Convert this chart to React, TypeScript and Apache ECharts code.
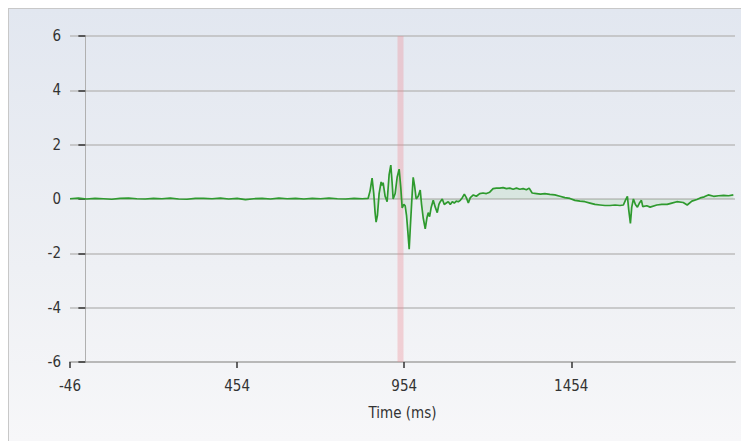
import React, { useEffect, useRef } from "react";
import * as echarts from "echarts";

const xTickValues = [-46, 454, 954, 1454];
const yTickValues = [-6, -4, -2, 0, 2, 4, 6];
const markerRange = [934, 952];

const timeMs = [
  -46, -21, 4, 29, 54, 79, 104, 129, 154, 179, 204, 229, 254, 279, 304, 329, 354, 379,
  404, 429, 454, 479, 504, 529, 554, 579, 604, 629, 654, 679, 704, 729, 754, 779, 804, 829,
  846, 852, 858, 863, 867, 870, 874, 879, 885, 888, 891, 897, 903, 909, 914, 918, 921, 927,
  933, 939, 944, 948, 953, 957, 961, 965, 969, 973, 978, 981, 985, 990, 996, 1002, 1006,
  1011, 1017, 1022, 1026, 1030, 1035, 1041, 1047, 1053, 1058, 1062, 1068, 1074, 1080, 1086,
  1092, 1098, 1104, 1110, 1116, 1122, 1128, 1134, 1140, 1146, 1152, 1161, 1170, 1180, 1190,
  1200, 1210, 1220, 1230, 1240, 1250, 1260, 1270, 1280, 1290, 1300, 1310, 1320, 1328, 1337,
  1350, 1362, 1375, 1390, 1405, 1420, 1435, 1450, 1465, 1480, 1495, 1510, 1525, 1540, 1555,
  1570, 1585, 1600, 1610, 1616, 1622, 1626, 1631, 1635, 1640, 1646, 1652, 1658, 1664, 1668,
  1680, 1690, 1710, 1725, 1741, 1755, 1770, 1789, 1801, 1815, 1830, 1840, 1852, 1864, 1880,
  1895, 1910, 1925, 1939,
];

const signal = [
  0.01, 0.03, 0.0, 0.02, 0.01, -0.01, 0.02, 0.03, 0.01, 0.0, 0.02, 0.01, 0.03, 0.0, -0.01, 0.02, 0.02, 0.01,
  0.03, 0.0, 0.02, -0.02, 0.01, 0.02, 0.0, 0.03, 0.01, 0.02, 0.0, 0.02, 0.01, 0.03, 0.01, 0.0, 0.02, 0.01,
  0.02, 0.3, 0.77, 0.2, -0.5, -0.85, -0.6, 0.2, 0.63, 0.5, 0.6, 0.1, -0.1, 0.9, 1.25, 0.6, 0.0, 0.2,
  0.8, 1.1, 0.4, -0.33, -0.2, -0.25, -0.6, -1.2, -1.85, -0.9, 0.2, 0.8, 0.5, 0.0, 0.1, 0.33, -0.2,
  -0.7, -1.1, -0.7, -0.5, -0.65, -0.3, -0.05, -0.3, -0.5, -0.2, -0.1, 0.0, -0.2, -0.15, -0.1,
  -0.2, -0.1, -0.15, -0.08, -0.1, -0.05, 0.05, 0.18, 0.05, -0.15, 0.05, 0.15, 0.1, 0.2, 0.22,
  0.2, 0.25, 0.38, 0.4, 0.4, 0.42, 0.38, 0.4, 0.36, 0.4, 0.36, 0.38, 0.34, 0.4, 0.22,
  0.2, 0.18, 0.2, 0.17, 0.15, 0.1, 0.05, 0.02, -0.05, -0.08, -0.1, -0.15, -0.2, -0.22, -0.24,
  -0.24, -0.22, -0.24, -0.22, -0.05, 0.1, -0.4, -0.9, -0.3, 0.0, -0.2, -0.3, -0.15, -0.05, -0.28,
  -0.25, -0.3, -0.22, -0.2, -0.2, -0.15, -0.1, -0.13, -0.22, -0.08, -0.02, 0.04, 0.08, 0.15, 0.1,
  0.12, 0.13, 0.12, 0.15,
];

const fontFamily = "'Liberation Sans Narrow', 'DejaVu Sans Condensed', 'Liberation Sans', sans-serif";

export default function App() {
  const ref = useRef<HTMLDivElement>(null);

  useEffect(() => {
    document.body.style.overflow = "hidden";
    if (!ref.current) return;
    const chart = echarts.init(ref.current, null, { renderer: "svg" });
    const data = timeMs.map((t, i) => [t, signal[i]]);
    chart.setOption({
      animation: false,
      backgroundColor: "transparent",
      grid: { left: 61, right: 14, top: 27, bottom: 79, containLabel: false },
      xAxis: {
        type: "value",
        min: -46,
        max: 1944,
        name: "Time (ms)",
        nameLocation: "middle",
        nameGap: 43,
        nameTextStyle: { fontFamily, fontSize: 15, color: "#333" },
        axisLine: { show: true, onZero: false, lineStyle: { color: "#b8b8b8", width: 2 } },
        axisTick: {
          show: true,
          customValues: xTickValues,
          length: 6,
          lineStyle: { color: "#333", width: 1.5 },
        },
        axisLabel: {
          customValues: xTickValues,
          formatter: (v: number) => String(v),
          fontFamily,
          fontSize: 15,
          color: "#333",
          margin: 16,
        },
        splitLine: { show: false },
      },
      yAxis: {
        type: "value",
        min: -6,
        max: 6,
        interval: 2,
        axisLine: { show: true, lineStyle: { color: "#b0b0b0", width: 1 } },
        axisTick: { show: true, length: 7, lineStyle: { color: "#333", width: 1.5 } },
        axisLabel: {
          fontFamily,
          fontSize: 15,
          color: "#333",
          margin: 9,
          customValues: yTickValues,
          formatter: (v: number) => String(v),
        },
        splitLine: { show: true, lineStyle: { color: "#bdbdbd", width: 1.5 } },
      },
      series: [
        {
          type: "line",
          data,
          showSymbol: false,
          symbol: "none",
          lineStyle: { color: "#2e9a2e", width: 1.7 },
          areaStyle: { color: "rgba(70,170,70,0.15)", origin: 0 },
          z: 3,
          markArea: {
            silent: true,
            itemStyle: { color: "rgba(238,140,150,0.35)" },
            data: [[{ xAxis: markerRange[0] }, { xAxis: markerRange[1] }]],
          },
        },
      ],
    });
    return () => chart.dispose();
  }, []);

  return (
    <div
      style={{
        width: 741,
        height: 433,
        boxSizing: "border-box",
        borderLeft: "1px solid #c8c8c8",
        borderTop: "1px solid #c8c8c8",
        background: "linear-gradient(to bottom, #e2e7f0 0%, #eef0f4 60%, #f7f7f9 100%)",
      }}
    >
      <div ref={ref} style={{ width: 740, height: 432 }} />
    </div>
  );
}
